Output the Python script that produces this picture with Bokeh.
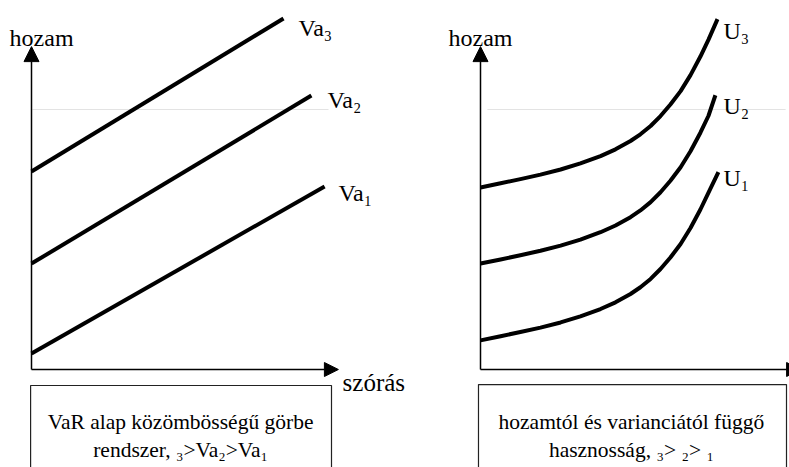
from bokeh.plotting import figure
from bokeh.layouts import row
from bokeh.models import Range1d, Arrow, NormalHead, ColumnDataSource
from bokeh.core.properties import value
from bokeh.embed import file_html
from bokeh.resources import INLINE

FONT = "Times New Roman"

# ---------------- left panel: VaR indifference lines ----------------
va_names = ["Va₁", "Va₂", "Va₃"]
va_x0 = [0.0, 0.0, 0.0]
va_y0 = [0.50, 3.31, 6.19]
va_x1 = [9.77, 9.33, 8.40]
va_y1 = [5.72, 8.56, 10.97]
va_label_x = [10.23, 9.87, 8.90]
va_label_y = [5.53, 8.41, 10.66]

left_axis_label = "hozam"
left_axis_label_pos = (-0.73, 10.375)
left_xlabel = "szórás"
left_xlabel_pos = (10.37, -0.41)
left_caption = ["VaR alap közömbösségű görbe", "rendszer, ₃>Va₂>Va₁"]
left_caption_x = [4.97, 4.97]
left_caption_y = [-1.656, -2.53]
left_box = dict(left=-0.03, right=10.0, top=-0.5, bottom=-6.0)
left_faint = dict(x0=0.03, x1=9.9, y=8.125)
left_axes = dict(x_end=10.23, y_end=10.09)

# ---------------- right panel: utility curves ----------------
u_names = ["U₁", "U₂", "U₃"]
u_x = [
    [0, 0.67, 1.33, 2.0, 2.67, 3.33, 4.0, 4.5, 5.0, 5.33, 5.67, 6.0, 6.33, 6.67, 7.0, 7.33, 7.6, 7.93],
    [0, 0.67, 1.33, 2.0, 2.67, 3.33, 4.0, 4.5, 5.0, 5.33, 5.67, 6.0, 6.33, 6.67, 7.0, 7.33, 7.6, 7.83],
    [0, 0.67, 1.33, 2.0, 2.67, 3.33, 4.0, 4.5, 5.0, 5.33, 5.67, 6.0, 6.33, 6.67, 7.0, 7.33, 7.6, 7.90],
]
u_y = [
    [0.91, 1.04, 1.17, 1.31, 1.47, 1.66, 1.89, 2.10, 2.36, 2.57, 2.83, 3.14, 3.50, 3.92, 4.42, 5.00, 5.53, 6.17],
    [3.31, 3.44, 3.57, 3.71, 3.87, 4.06, 4.29, 4.50, 4.76, 4.97, 5.23, 5.54, 5.90, 6.32, 6.82, 7.40, 7.93, 8.57],
    [5.69, 5.82, 5.95, 6.09, 6.25, 6.44, 6.67, 6.88, 7.14, 7.35, 7.61, 7.92, 8.28, 8.70, 9.20, 9.78, 10.31, 10.95],
]
u_label_x = [8.10, 8.10, 8.10]
u_label_y = [6.00, 8.25, 10.59]

right_axis_label = "hozam"
right_axis_label_pos = (-1.067, 10.375)
right_caption = ["hozamtól és varianciától függő", "hasznosság, ₃> ₂> ₁"]
right_caption_x = [5.03, 5.03]
right_caption_y = [-1.656, -2.53]
right_box = dict(left=-0.067, right=10.2, top=-0.47, bottom=-6.0)
right_faint = dict(x0=0.23, x1=10.17, y=8.125)
right_axes = dict(x_end=10.67, y_end=10.09)

H = 467
Y_RANGE = (-98 / 32, 369 / 32)


def base_fig(width, xr):
    p = figure(width=width, height=H, x_range=Range1d(*xr), y_range=Range1d(*Y_RANGE),
               output_backend="svg", toolbar_location=None,
               x_axis_location=None, y_axis_location=None,
               min_border=0, outline_line_color=None)
    p.grid.visible = False
    p.background_fill_color = "white"
    p.border_fill_color = "white"
    return p


def decorate(p, axes, faint, box, axis_label, axis_label_pos, cap_text, cap_x, cap_y):
    p.segment(x0=[faint["x0"]], y0=[faint["y"]], x1=[faint["x1"]], y1=[faint["y"]],
              line_color="#e3e3e3", line_width=1)
    p.quad(left=[box["left"]], right=[box["right"]], top=[box["top"]], bottom=[box["bottom"]],
           fill_color=None, line_color="#222222", line_width=1.2)
    p.add_layout(Arrow(end=NormalHead(size=15, fill_color="black", line_color="black"),
                       x_start=0, y_start=0, x_end=0, y_end=axes["y_end"],
                       line_width=1.5, line_color="black"))
    p.add_layout(Arrow(end=NormalHead(size=14, fill_color="black", line_color="black"),
                       x_start=0, y_start=0, x_end=axes["x_end"], y_end=0,
                       line_width=1.5, line_color="black"))
    p.text(x=[axis_label_pos[0]], y=[axis_label_pos[1]], text=[axis_label],
           text_font=value(FONT), text_font_size="24px", text_baseline="alphabetic",
           text_align="left", text_color="black")
    src = ColumnDataSource(dict(x=cap_x, y=cap_y, text=cap_text))
    p.text(x="x", y="y", text="text", source=src,
           text_font=value(FONT), text_font_size="21.5px", text_baseline="alphabetic",
           text_align="center", text_color="black")


pl = base_fig(440, (-31 / 30, 409 / 30))
decorate(pl, left_axes, left_faint, left_box, left_axis_label, left_axis_label_pos,
         left_caption, left_caption_x, left_caption_y)
pl.segment(x0=va_x0, y0=va_y0, x1=va_x1, y1=va_y1, line_color="black", line_width=4)
pl.text(x=va_label_x, y=va_label_y, text=va_names, text_font=value(FONT),
        text_font_size="24px", text_baseline="alphabetic", text_align="left")
pl.text(x=[left_xlabel_pos[0]], y=[left_xlabel_pos[1]], text=[left_xlabel],
        text_font=value(FONT), text_font_size="25px", text_baseline="alphabetic",
        text_align="left")

pr = base_fig(349, (-40 / 30, 309 / 30))
decorate(pr, right_axes, right_faint, right_box, right_axis_label, right_axis_label_pos,
         right_caption, right_caption_x, right_caption_y)
pr.multi_line(xs=u_x, ys=u_y, line_color="black", line_width=4, line_join="round")
pr.text(x=u_label_x, y=u_label_y, text=u_names, text_font=value(FONT),
        text_font_size="24px", text_baseline="alphabetic", text_align="left")

layout = row(pl, pr)
open("out.html", "w").write(file_html(layout, INLINE))
